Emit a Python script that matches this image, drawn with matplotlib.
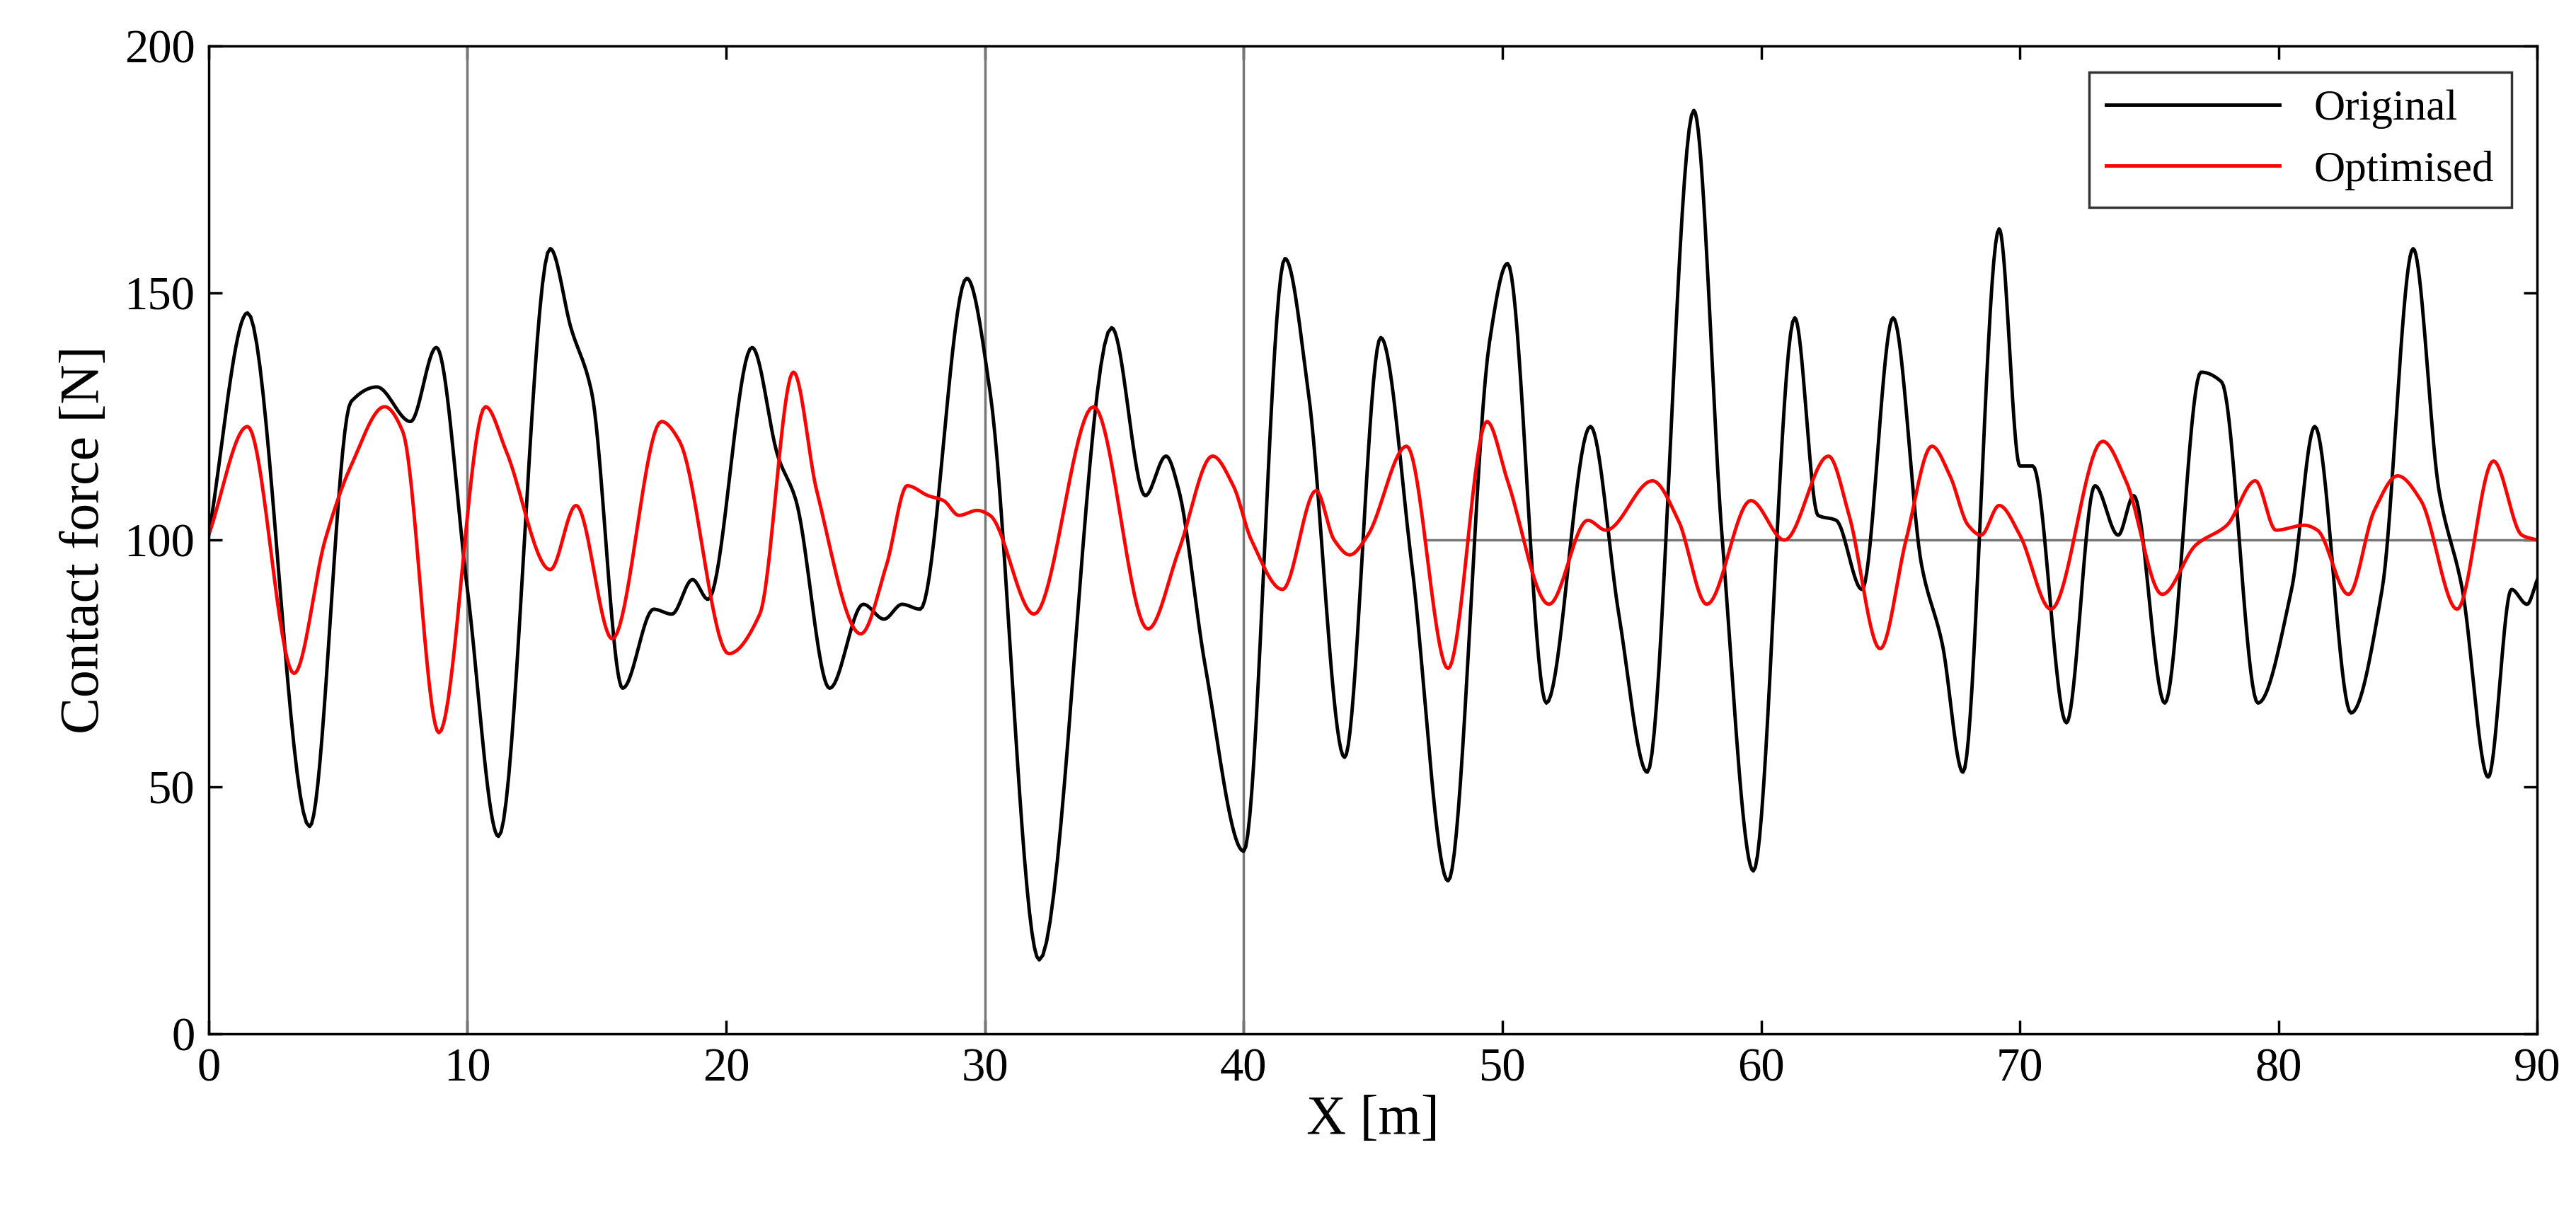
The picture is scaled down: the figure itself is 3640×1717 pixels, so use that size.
import numpy as np
import matplotlib
matplotlib.use("Agg")
import matplotlib.pyplot as plt

orig_x = [0,1.5,3.9,5.5,6.5,7.8,8.8,10,11.2,13.2,14,14.8,16,17.2,17.9,18.7,19.3,21,22,22.7,24,25.3,26.1,26.8,27.5,29.3,30.2,32.1,34.9,36.2,37,37.5,38.5,40,41.6,42.5,43.9,45.3,46.5,47.9,49.5,50.2,51.7,53.4,54.5,55.6,57.4,58.5,59.7,61.3,62.2,62.9,63.9,65.1,66.2,67.0,67.8,69.2,70.0,70.5,71.8,72.9,73.8,74.4,75.6,77,77.8,79.2,80.5,81.4,82.8,84.0,85.2,86.2,87.1,88.1,89.0,89.6,90]
orig_y = [101,146,42,128,131,124,139,90,40,159,143,130,70,86,85,92,88,139,117,108,70,87,84,87,86,153,130,15,143,109,117,110,75,37,157,130,56,141,95,31,140,156,67,123,85,53,187,100,33,145,105,104,90,145,95,79,53,163,115,115,63,111,101,109,67,134,132,67,90,123,65,90,159,110,90,52,90,87,92]
opt_x = [0,1.5,3.3,4.5,5.5,6.8,7.5,8.9,10.7,11.5,13.2,14.2,15.6,17.5,18.2,20.1,21.3,22.6,23.5,25.2,26.2,27.0,27.8,28.4,29,29.7,30.2,31.9,34.2,36.3,37.5,38.8,39.6,40.3,41.5,42.8,43.5,44.1,44.8,46.3,47.9,49.4,50.2,51.8,53.3,54.0,55.8,56.8,57.9,59.6,60.9,62.6,63.4,64.6,65.6,66.6,67.3,68.0,68.5,69.2,70.0,71.2,73.2,74.1,75.5,76.8,78.0,79.1,79.9,81.0,81.5,82.7,83.7,84.6,85.5,86.9,88.3,89.4,90]
opt_y = [101,123,73,100,115,127,122,61,127,118,94,107,80,124,120,77,85,134,110,81,95,111,109,108,105,106,105,85,127,82,98,117,111,100,90,110,100,97,101,119,74,124,112,87,104,102,112,104,87,108,100,117,105,78,100,119,113,103,101,107,101,86,120,112,89,99,103,112,102,103,102,89,106,113,108,86,116,101,100]

def smooth(x, y, n=20):
    x = np.asarray(x, float); y = np.asarray(y, float)
    h = np.diff(x); d = np.diff(y) / h
    m = np.zeros_like(y)
    for i in range(1, len(y) - 1):
        if d[i-1] * d[i] > 0:
            m[i] = 2 / (1 / d[i-1] + 1 / d[i])
    m[0] = d[0]; m[-1] = d[-1]
    xs, ys = [], []
    for i in range(len(h)):
        t = np.linspace(0, 1, n, endpoint=False)
        h00 = 2*t**3 - 3*t**2 + 1; h10 = t**3 - 2*t**2 + t
        h01 = -2*t**3 + 3*t**2; h11 = t**3 - t**2
        xs.append(x[i] + t*h[i])
        ys.append(h00*y[i] + h10*h[i]*m[i] + h01*y[i+1] + h11*h[i]*m[i+1])
    xs.append([x[-1]]); ys.append([y[-1]])
    return np.concatenate(xs), np.concatenate(ys)

plt.rcParams['font.family'] = ['Liberation Serif', 'DejaVu Serif']
fig = plt.figure(figsize=(36.4, 17.17), dpi=100)
ax = fig.add_axes([0.081, 0.149, 0.904, 0.813])
for xv in [10, 30, 40]:
    ax.axvline(xv, color='#777777', lw=2.5)
ax.plot([47, 90], [100, 100], color='#777777', lw=2.5)
ax.plot(*smooth(orig_x, orig_y), color='black', lw=3.5, label='Original')
ax.plot(*smooth(opt_x, opt_y), color='red', lw=3.5, label='Optimised')
ax.set_xlim(0, 90); ax.set_ylim(0, 200)
ax.set_xticks(range(0, 91, 10)); ax.set_yticks(range(0, 201, 50))
ax.tick_params(labelsize=48, direction='in', length=14, width=2.5, top=True, right=True, pad=14)
for s in ax.spines.values():
    s.set_linewidth(2.5)
ax.set_xlabel('X [m]', fontsize=56, labelpad=4)
ax.set_ylabel('Contact force [N]', fontsize=56, labelpad=14)
leg = ax.legend(loc='upper right', fontsize=44, fancybox=False, edgecolor='black',
                handlelength=4, borderaxespad=0.6)
leg.get_frame().set_linewidth(2.5)
fig.savefig('out.png', dpi=100)
